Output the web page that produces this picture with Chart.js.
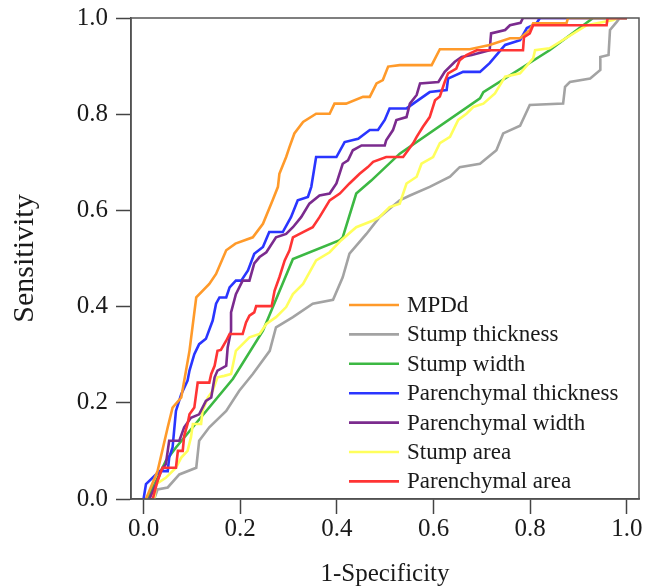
<!DOCTYPE html>
<html>
<head>
<meta charset="utf-8">
<script src="https://cdn.jsdelivr.net/npm/chart.js@4/dist/chart.umd.min.js"></script>
<style>
    body { margin: 0; background: #fff; }
    canvas { display: block; }
</style>
</head>
<body>
<canvas id="chart" width="646" height="586"></canvas>
<script>
const xTicks = [0, 0.2, 0.4, 0.6, 0.8, 1.0]
const yTicks = [0, 0.2, 0.4, 0.6, 0.8, 1.0]

const labels = ['MPDd', 'Stump thickness', 'Stump width', 'Parenchymal thickness', 'Parenchymal width', 'Stump area', 'Parenchymal area']
const colors = ['#ff9a2a', '#a3a3a3', '#3cb843', '#2a35ff', '#7b2b8e', '#ffff5c', '#ff3434']

const mpddX = [0.005, 0.029, 0.05, 0.06, 0.078, 0.095, 0.109, 0.136, 0.15, 0.171, 0.19, 0.226, 0.247, 0.267, 0.278, 0.281, 0.295, 0.302, 0.312, 0.33, 0.357, 0.385, 0.395, 0.419, 0.454, 0.468, 0.482, 0.495, 0.506, 0.53, 0.596, 0.613, 0.675, 0.716, 0.758, 0.779, 0.799, 0.806, 0.875, 0.878, 1.0]
const mpddY = [0, 0.058, 0.149, 0.19, 0.211, 0.308, 0.419, 0.447, 0.468, 0.517, 0.531, 0.544, 0.572, 0.621, 0.649, 0.676, 0.711, 0.732, 0.76, 0.784, 0.801, 0.801, 0.822, 0.822, 0.836, 0.836, 0.864, 0.871, 0.899, 0.902, 0.902, 0.935, 0.935, 0.944, 0.958, 0.958, 0.975, 0.989, 0.989, 1.0, 1.0]

const stumpThickX = [0.022, 0.029, 0.05, 0.074, 0.109, 0.115, 0.136, 0.171, 0.198, 0.226, 0.261, 0.274, 0.309, 0.35, 0.392, 0.412, 0.426, 0.461, 0.488, 0.53, 0.551, 0.592, 0.634, 0.654, 0.696, 0.73, 0.744, 0.779, 0.799, 0.868, 0.872, 0.882, 0.924, 0.945, 0.945, 0.962, 0.965, 0.979, 0.985, 1.0]
const stumpThickY = [0, 0.02, 0.024, 0.051, 0.065, 0.121, 0.149, 0.183, 0.225, 0.26, 0.308, 0.357, 0.378, 0.406, 0.414, 0.461, 0.51, 0.551, 0.586, 0.621, 0.631, 0.649, 0.67, 0.69, 0.697, 0.725, 0.76, 0.776, 0.819, 0.822, 0.857, 0.867, 0.874, 0.892, 0.919, 0.923, 0.975, 0.992, 1.0, 1.0]

const stumpWidthX = [0.008, 0.046, 0.067, 0.185, 0.247, 0.309, 0.406, 0.412, 0.44, 0.471, 0.53, 0.696, 0.703, 0.84, 0.93, 1.0]
const stumpWidthY = [0, 0.079, 0.107, 0.25, 0.35, 0.499, 0.538, 0.544, 0.635, 0.662, 0.718, 0.833, 0.846, 0.933, 1.0, 1.0]

const parThickX = [0, 0.005, 0.033, 0.05, 0.053, 0.06, 0.067, 0.078, 0.091, 0.095, 0.105, 0.115, 0.129, 0.143, 0.15, 0.157, 0.171, 0.178, 0.191, 0.202, 0.216, 0.229, 0.247, 0.26, 0.288, 0.305, 0.319, 0.34, 0.347, 0.357, 0.399, 0.416, 0.444, 0.468, 0.485, 0.499, 0.509, 0.544, 0.558, 0.592, 0.627, 0.63, 0.661, 0.696, 0.716, 0.748, 0.779, 0.793, 0.813, 0.82, 1.0]
const parThickY = [0, 0.031, 0.058, 0.058, 0.086, 0.107, 0.183, 0.218, 0.246, 0.267, 0.301, 0.322, 0.333, 0.371, 0.406, 0.419, 0.419, 0.44, 0.454, 0.454, 0.475, 0.51, 0.524, 0.555, 0.555, 0.586, 0.621, 0.628, 0.649, 0.711, 0.711, 0.742, 0.749, 0.767, 0.767, 0.788, 0.812, 0.812, 0.822, 0.846, 0.85, 0.874, 0.888, 0.888, 0.906, 0.944, 0.954, 0.979, 0.989, 1.0, 1.0]

const parWidthX = [0.012, 0.026, 0.036, 0.046, 0.053, 0.074, 0.084, 0.098, 0.115, 0.129, 0.14, 0.147, 0.153, 0.171, 0.174, 0.181, 0.181, 0.191, 0.205, 0.219, 0.229, 0.24, 0.254, 0.274, 0.295, 0.309, 0.326, 0.343, 0.364, 0.385, 0.399, 0.412, 0.423, 0.433, 0.451, 0.499, 0.502, 0.516, 0.523, 0.544, 0.551, 0.565, 0.572, 0.61, 0.623, 0.644, 0.658, 0.679, 0.716, 0.719, 0.748, 0.758, 0.78, 0.785, 1.0]
const parWidthY = [0, 0.031, 0.058, 0.072, 0.121, 0.121, 0.149, 0.169, 0.176, 0.204, 0.211, 0.253, 0.267, 0.277, 0.315, 0.35, 0.388, 0.426, 0.454, 0.454, 0.49, 0.503, 0.513, 0.544, 0.551, 0.565, 0.586, 0.614, 0.631, 0.635, 0.656, 0.697, 0.704, 0.725, 0.735, 0.735, 0.746, 0.767, 0.788, 0.794, 0.822, 0.84, 0.864, 0.867, 0.888, 0.909, 0.919, 0.923, 0.933, 0.968, 0.975, 0.985, 0.99, 1.0, 1.0]

const stumpAreaX = [0.022, 0.026, 0.046, 0.067, 0.078, 0.091, 0.098, 0.102, 0.119, 0.122, 0.133, 0.143, 0.153, 0.167, 0.181, 0.191, 0.205, 0.219, 0.24, 0.254, 0.274, 0.295, 0.309, 0.33, 0.357, 0.385, 0.409, 0.44, 0.475, 0.488, 0.509, 0.53, 0.544, 0.565, 0.575, 0.599, 0.613, 0.634, 0.651, 0.668, 0.682, 0.703, 0.727, 0.748, 0.779, 0.806, 0.81, 0.84, 0.917, 0.972, 0.98, 1.0]
const stumpAreaY = [0, 0.031, 0.044, 0.065, 0.086, 0.1, 0.128, 0.156, 0.156, 0.183, 0.211, 0.225, 0.253, 0.256, 0.26, 0.308, 0.322, 0.336, 0.343, 0.364, 0.378, 0.399, 0.426, 0.447, 0.496, 0.513, 0.538, 0.565, 0.579, 0.586, 0.607, 0.614, 0.656, 0.67, 0.697, 0.711, 0.74, 0.753, 0.788, 0.801, 0.815, 0.822, 0.843, 0.878, 0.885, 0.916, 0.933, 0.937, 0.985, 0.996, 1.0, 1.0]

const parAreaX = [0.019, 0.029, 0.039, 0.067, 0.071, 0.081, 0.084, 0.091, 0.095, 0.105, 0.112, 0.136, 0.14, 0.147, 0.153, 0.16, 0.171, 0.178, 0.205, 0.212, 0.219, 0.229, 0.233, 0.265, 0.271, 0.281, 0.292, 0.302, 0.309, 0.33, 0.35, 0.364, 0.385, 0.406, 0.426, 0.447, 0.464, 0.475, 0.502, 0.537, 0.558, 0.565, 0.578, 0.592, 0.603, 0.613, 0.623, 0.63, 0.647, 0.654, 0.668, 0.689, 0.785, 0.787, 0.799, 0.806, 0.958, 0.96, 1.0]
const parAreaY = [0, 0.038, 0.065, 0.065, 0.1, 0.1, 0.131, 0.156, 0.176, 0.19, 0.242, 0.242, 0.26, 0.277, 0.308, 0.31, 0.329, 0.343, 0.343, 0.367, 0.381, 0.388, 0.401, 0.401, 0.433, 0.461, 0.496, 0.517, 0.544, 0.555, 0.565, 0.586, 0.621, 0.635, 0.656, 0.676, 0.69, 0.701, 0.711, 0.711, 0.74, 0.753, 0.774, 0.794, 0.829, 0.837, 0.867, 0.885, 0.895, 0.912, 0.923, 0.933, 0.933, 0.96, 0.968, 0.985, 0.985, 1.0, 1.0]

const seriesX = [mpddX, stumpThickX, stumpWidthX, parThickX, parWidthX, stumpAreaX, parAreaX]
const seriesY = [mpddY, stumpThickY, stumpWidthY, parThickY, parWidthY, stumpAreaY, parAreaY]
// red on top, then orange, the rest below
const drawOrder = [1, 6, 5, 3, 2, 4, 0]

const serif = 'Liberation Serif, Times New Roman, serif'
const ctx = document.getElementById('chart')

const datasets = labels.map((label, i) => ({
    label: label,
    data: seriesX[i].map((x, j) => ({ x: x, y: seriesY[i][j] })),
    borderColor: colors[i],
    backgroundColor: colors[i],
    borderWidth: 2.6,
    pointRadius: 0,
    tension: 0,
    fill: false,
    order: drawOrder[i]
}))

// box round the plot and the legend inside it
const framePlugin = {
    id: 'frame',
    afterDraw: chart => {
        const c = chart.ctx
        const a = chart.chartArea
        c.save()
        c.strokeStyle = '#555'
        c.lineWidth = 1.5
        c.strokeRect(a.left, a.top, a.right - a.left, a.bottom - a.top)

        const left = a.left + 218
        const top = a.top + 287
        c.font = '23px ' + serif
        c.textBaseline = 'middle'
        c.fillStyle = '#1a1a1a'
        labels.forEach((label, i) => {
            const y = top + i * 29.4
            c.strokeStyle = colors[i]
            c.lineWidth = 2.6
            c.beginPath()
            c.moveTo(left, y)
            c.lineTo(left + 50, y)
            c.stroke()
            c.fillText(label, left + 58, y + 1)
        })
        c.restore()
    }
}

const axisStyle = {
    grid: { drawOnChartArea: false, drawTicks: true, tickLength: 15, color: '#444', tickColor: '#444', tickWidth: 1.5 },
    border: { display: true, color: '#444', width: 1.5 }
}

// fixed box sizes, no extra room for overhanging labels
const fixSize = (s, w, h) => {
    if (w) s.width = w
    if (h) s.height = h
    s.paddingTop = 0
    s.paddingBottom = 0
    s.paddingLeft = 0
    s.paddingRight = 0
}

new Chart(ctx, {
    type: 'line',
    data: { datasets: datasets },
    options: {
        responsive: false,
        animation: false,
        layout: { padding: { top: 18, right: 7, left: 0, bottom: 0 } },
        plugins: {
            legend: { display: false },
            tooltip: { enabled: false }
        },
        scales: {
            x: {
                type: 'linear',
                min: -0.026,
                max: 1.025,
                ...axisStyle,
                afterBuildTicks: s => { s.ticks = xTicks.map(v => ({ value: v })) },
                afterFit: s => fixSize(s, 0, 87),
                ticks: {
                    padding: 0,
                    color: '#1a1a1a',
                    font: { family: serif, size: 25 },
                    maxRotation: 0,
                    callback: v => v.toFixed(1)
                },
                title: {
                    display: true,
                    text: '1-Specificity',
                    color: '#1a1a1a',
                    font: { family: serif, size: 25, lineHeight: 0.95 },
                    padding: { top: 15, bottom: 0 }
                }
            },
            y: {
                type: 'linear',
                min: 0,
                max: 1,
                ...axisStyle,
                afterBuildTicks: s => { s.ticks = yTicks.map(v => ({ value: v })) },
                afterFit: s => fixSize(s, 131, 0),
                ticks: {
                    padding: 8,
                    color: '#1a1a1a',
                    font: { family: serif, size: 25 },
                    callback: v => v.toFixed(1)
                },
                title: {
                    display: true,
                    text: 'Sensitivity',
                    color: '#1a1a1a',
                    font: { family: serif, size: 30 },
                    padding: { top: 7, bottom: 4 }
                }
            }
        }
    },
    plugins: [framePlugin]
})
</script>
</body>
</html>
